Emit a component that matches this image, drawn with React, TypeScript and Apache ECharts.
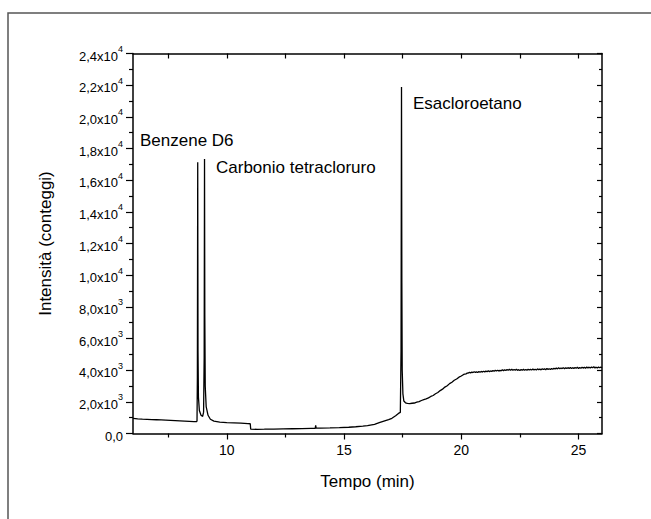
import React, { useEffect, useRef } from "react";
import * as echarts from "echarts";

// [tempo (min), intensità (conteggi)]
const earlyBaseline: number[][] = [
  [6.0, 958], [6.2, 925], [6.4, 905], [6.6, 890], [6.8, 875], [7.0, 868], [7.2, 855], [7.4, 842],
  [7.6, 830], [7.8, 815], [8.0, 800], [8.2, 785], [8.4, 770], [8.6, 752], [8.7, 745],
];
const benzeneAndCCl4Peaks: number[][] = [
  [8.73, 790], [8.745, 3500], [8.76, 17130], [8.772, 5200], [8.79, 2300], [8.83, 1450], [8.9, 1150],
  [8.97, 1080], [9.01, 1350], [9.035, 4800], [9.05, 17340], [9.062, 7500], [9.08, 3000], [9.12, 1700],
  [9.2, 1150], [9.3, 900], [9.45, 780],
];
const midBaseline: number[][] = [
  [9.7, 720], [10.0, 690], [10.3, 670], [10.6, 650], [10.9, 625], [11.0, 615], [11.02, 270], [11.3, 265],
  [11.6, 270], [12.0, 280], [12.4, 290], [12.8, 300], [13.2, 310], [13.6, 320], [13.77, 325], [13.79, 520],
  [13.81, 340], [14.0, 345], [14.4, 355], [14.8, 370], [15.2, 395], [15.5, 425], [15.8, 465], [16.0, 495],
  [16.3, 580], [16.5, 680], [16.7, 780], [16.9, 880], [17.04, 960], [17.2, 1120], [17.32, 1270], [17.4, 1330],
];
const hexachloroethanePeak: number[][] = [
  [17.43, 5200], [17.45, 21880], [17.465, 9500], [17.48, 4000], [17.51, 2500], [17.55, 2050], [17.62, 1940],
];
const rise: number[][] = [
  [17.7, 1905], [17.8, 1890], [17.9, 1910], [18.0, 1925], [18.1, 1975], [18.2, 2010], [18.3, 2085],
  [18.4, 2140], [18.5, 2190], [18.6, 2250], [18.7, 2340], [18.8, 2400], [18.9, 2510], [19.0, 2590],
  [19.1, 2710], [19.2, 2800], [19.3, 2930], [19.4, 3020], [19.5, 3150], [19.6, 3240], [19.7, 3360],
  [19.8, 3440], [19.9, 3560], [20.0, 3630], [20.1, 3730], [20.2, 3770], [20.25, 3810],
];
const plateau: number[][] = [
  [20.3, 3820], [20.35, 3860], [20.4, 3830], [20.45, 3880], [20.5, 3850], [20.55, 3900], [20.6, 3860],
  [20.65, 3890], [20.7, 3850], [20.75, 3910], [20.8, 3870], [20.85, 3920], [20.9, 3880], [20.95, 3930],
  [21.0, 3890], [21.05, 3940], [21.1, 3900], [21.15, 3960], [21.2, 3910], [21.25, 3950], [21.3, 3920],
  [21.35, 3980], [21.4, 3930], [21.45, 3990], [21.5, 3950], [21.55, 4000], [21.6, 3940], [21.65, 3990],
  [21.7, 3960], [21.75, 4020], [21.8, 3970], [21.85, 4030], [21.9, 3980], [21.95, 4040], [22.0, 3990],
  [22.05, 4050], [22.1, 4000], [22.15, 4060], [22.2, 3990], [22.25, 4040], [22.3, 4000], [22.35, 4060],
  [22.4, 3990], [22.45, 4030], [22.5, 3980], [22.55, 4040], [22.6, 4000], [22.65, 4050], [22.7, 3990],
  [22.75, 4040], [22.8, 4000], [22.85, 4060], [22.9, 4010], [22.95, 4050], [23.0, 4010], [23.05, 4070],
  [23.1, 4020], [23.15, 4060], [23.2, 4010], [23.25, 4080], [23.3, 4030], [23.35, 4070], [23.4, 4020],
  [23.45, 4090], [23.5, 4040], [23.55, 4080], [23.6, 4030], [23.65, 4100], [23.7, 4050], [23.75, 4090],
  [23.8, 4040], [23.85, 4110], [23.9, 4060], [23.95, 4120], [24.0, 4070], [24.05, 4130], [24.1, 4080],
  [24.15, 4150], [24.2, 4090], [24.25, 4140], [24.3, 4100], [24.35, 4160], [24.4, 4090], [24.45, 4150],
  [24.5, 4100], [24.55, 4160], [24.6, 4110], [24.65, 4170], [24.7, 4100], [24.75, 4160], [24.8, 4110],
  [24.85, 4170], [24.9, 4120], [24.95, 4180], [25.0, 4110], [25.05, 4170], [25.1, 4120], [25.15, 4190],
  [25.2, 4130], [25.25, 4180], [25.3, 4120], [25.35, 4200], [25.4, 4140], [25.45, 4190], [25.5, 4130],
  [25.55, 4200], [25.6, 4150], [25.65, 4210], [25.7, 4140], [25.75, 4190], [25.8, 4130], [25.85, 4200],
  [25.9, 4150], [25.95, 4190], [26.0, 4150],
];

const xLabelTicks = [10, 15, 20, 25];
const xMinorTicks = [7.5, 12.5, 17.5, 22.5];
const xAllTicks = [7.5, 10, 12.5, 15, 17.5, 20, 22.5, 25];

const peakLabels = [
  { text: "Benzene D6", x: 140, y: 140 },
  { text: "Carbonio tetracloruro", x: 216, y: 167 },
  { text: "Esacloroetano", x: 413, y: 103 },
];

const FONT = "'Liberation Sans', Arial, sans-serif";

function yLabel(v: number): string {
  if (v === 0) return "{a|0,0}";
  const e = Math.floor(Math.log10(v) + 1e-9);
  const m = (v / Math.pow(10, e)).toFixed(1).replace(".", ",");
  return `{a|${m}x10}{b|${e}}`;
}

export default function App() {
  const ref = useRef<HTMLDivElement>(null);
  useEffect(() => {
    if (!ref.current) return;
    const chart = echarts.init(ref.current, undefined, { renderer: "svg" });
    const axisLineStyle = { color: "#000", width: 1.5 };
    const gridLeft = 133;
    const gridTop = 53.5;
    const gridW = 469;
    const gridH = 380;
    const data = [
      ...earlyBaseline, ...benzeneAndCCl4Peaks, ...midBaseline, ...hexachloroethanePeak, ...rise, ...plateau,
    ];
    chart.setOption({
      animation: false,
      backgroundColor: "#fff",
      grid: { left: gridLeft, top: gridTop, width: gridW, height: gridH },
      xAxis: [
        {
          type: "value", min: 6, max: 26, position: "bottom",
          axisLine: { show: true, onZero: false, lineStyle: axisLineStyle },
          axisTick: { show: true, customValues: xLabelTicks, length: 6, lineStyle: { color: "#000", width: 1.2 } },
          axisLabel: { show: true, customValues: xLabelTicks, color: "#000", fontSize: 14, fontFamily: FONT, margin: 9 },
          splitLine: { show: false },
        },
        {
          type: "value", min: 6, max: 26, position: "bottom",
          axisLine: { show: false, onZero: false },
          axisTick: { show: true, customValues: xMinorTicks, length: 4, lineStyle: { color: "#000", width: 1.2 } },
          axisLabel: { show: false },
          splitLine: { show: false },
        },
        {
          type: "value", min: 6, max: 26, position: "top",
          axisLine: { show: true, onZero: false, lineStyle: axisLineStyle },
          axisTick: { show: true, inside: true, customValues: xAllTicks, length: 5, lineStyle: { color: "#000", width: 1.2 } },
          axisLabel: { show: false },
          splitLine: { show: false },
        },
      ],
      yAxis: [
        {
          type: "value", min: 0, max: 24000, interval: 2000, position: "left",
          axisLine: { show: true, onZero: false, lineStyle: axisLineStyle },
          axisTick: { show: true, length: 7, lineStyle: { color: "#000", width: 1.2 } },
          minorTick: { show: true, splitNumber: 2, length: 4, lineStyle: { color: "#000", width: 1.2 } },
          axisLabel: {
            show: true, margin: 10, formatter: yLabel,
            rich: {
              a: { fontSize: 13, fontFamily: FONT, color: "#000", lineHeight: 18, verticalAlign: "bottom" },
              b: { fontSize: 9, fontFamily: FONT, color: "#000", lineHeight: 18, verticalAlign: "top" },
            },
          },
          splitLine: { show: false },
        },
        {
          type: "value", min: 0, max: 24000, interval: 2000, position: "right",
          axisLine: { show: true, onZero: false, lineStyle: axisLineStyle },
          axisTick: { show: true, inside: true, length: 5, lineStyle: { color: "#000", width: 1.2 } },
          minorTick: { show: true, splitNumber: 2, length: 3, lineStyle: { color: "#000", width: 1.2 } },
          axisLabel: { show: false },
          splitLine: { show: false },
        },
      ],
      series: [
        {
          type: "line",
          xAxisIndex: 0,
          yAxisIndex: 0,
          data,
          showSymbol: false,
          symbol: "none",
          lineStyle: { color: "#000", width: 1.3 },
          clip: true,
        },
      ],
      graphic: [
        {
          type: "rect", z: -10, silent: true,
          shape: { x: 8, y: 13, width: 700, height: 600 },
          style: { fill: "none", stroke: "#555", lineWidth: 1.5 },
        },
        {
          type: "text", x: gridLeft + gridW / 2, y: 481,
          style: { text: "Tempo (min)", fontSize: 17, fontFamily: FONT, fill: "#000", textAlign: "center", textVerticalAlign: "middle" },
        },
        {
          type: "text", x: 45, y: gridTop + gridH / 2, rotation: Math.PI / 2,
          style: { text: "Intensità (conteggi)", fontSize: 17, fontFamily: FONT, fill: "#000", textAlign: "center", textVerticalAlign: "middle" },
        },
        ...peakLabels.map((p) => ({
          type: "text", x: p.x, y: p.y,
          style: { text: p.text, fontSize: 17, fontFamily: FONT, fill: "#000", textAlign: "left", textVerticalAlign: "middle" },
        })),
      ],
    });
    return () => chart.dispose();
  }, []);
  return <div ref={ref} style={{ position: "absolute", left: 0, top: 0, width: 651, height: 519 }} />;
}
